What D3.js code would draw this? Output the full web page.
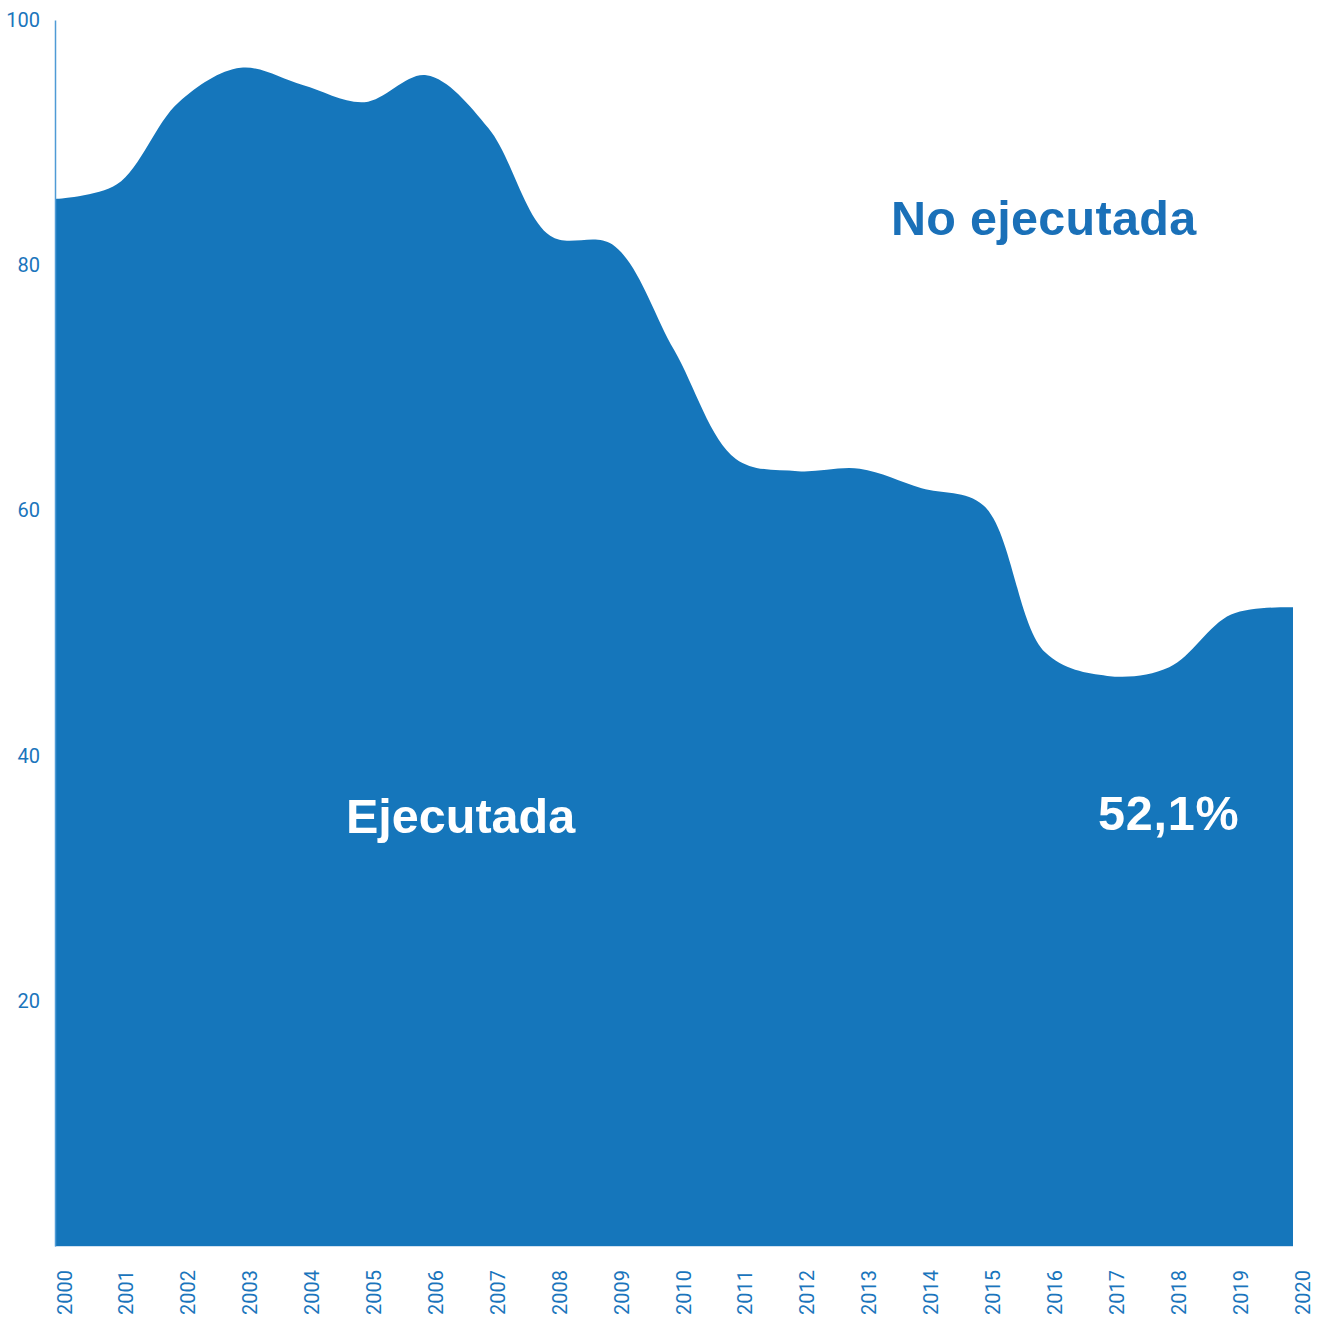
<!DOCTYPE html>
<html>
<head>
<meta charset="utf-8">
<script src="https://cdn.jsdelivr.net/npm/d3@7"></script>
<style>
  html, body { margin: 0; padding: 0; background: #ffffff; }
  svg { display: block; }
</style>
</head>
<body>
<svg id="chart" width="1323" height="1319"></svg>
<script>
const years = [2000, 2001, 2002, 2003, 2004, 2005, 2006, 2007, 2008, 2009, 2010,
               2011, 2012, 2013, 2014, 2015, 2016, 2017, 2018, 2019, 2020];
const ejecutada = [85.4, 86.6, 93.3, 96.1, 94.7, 93.3, 95.5, 91.2, 82.4, 81.7, 73.1,
                   64.2, 63.2, 63.4, 61.8, 60.4, 48.4, 46.5, 47.2, 51.5, 52.1];
const yTicks = [20, 40, 60, 80, 100];
const labelEjecutada = "Ejecutada";
const labelNoEjecutada = "No ejecutada";
const lastValueLabel = "52,1%";

const svg = d3.select("#chart");
const margin = { left: 55, top: 20 };
const innerW = 1293 - margin.left;
const innerH = 1246 - margin.top;

const x = d3.scaleLinear().domain([2000, 2020]).range([margin.left, margin.left + innerW]);
const y = d3.scaleLinear().domain([0, 100]).range([margin.top + innerH, margin.top]);

const data = years.map((yr, i) => ({ year: yr, v: ejecutada[i] }));

const area = d3.area()
  .x(d => x(d.year))
  .y0(y(0))
  .y1(d => y(d.v))
  .curve(d3.curveCatmullRom.alpha(0.5));

svg.append("path")
  .datum(data)
  .attr("d", area)
  .attr("fill", "#1576BB");

// x baseline (faint)
svg.append("line")
  .attr("x1", x(2000)).attr("x2", x(2020))
  .attr("y1", y(0) + 0.5).attr("y2", y(0) + 0.5)
  .attr("stroke", "#cfe1f1").attr("stroke-width", 1);

// y axis
const yAxis = d3.axisLeft(y).tickValues(yTicks).tickSize(0).tickPadding(15).tickFormat(d3.format("d"));
const gy = svg.append("g").attr("transform", `translate(${margin.left},0)`).call(yAxis);
gy.select(".domain").attr("stroke", "#4f9bd5").attr("stroke-width", 1.5);
gy.selectAll("text")
  .attr("fill", "#1a75bc")
  .style("font-family", "Roboto, 'Noto Sans', sans-serif")
  .style("font-size", "20px");

// x axis labels
const xAxis = d3.axisBottom(x).tickValues(years).tickSize(0).tickFormat(d3.format("d"));
const gx = svg.append("g").attr("transform", `translate(0,${y(0)})`).call(xAxis);
gx.select(".domain").remove();
gx.selectAll(".tick text")
  .attr("fill", "#1a75bc")
  .style("font-family", "Roboto, 'Noto Sans', sans-serif")
  .style("font-size", "20px")
  .attr("text-anchor", "end")
  .attr("x", 0).attr("y", 0).attr("dy", "0.35em")
  .attr("transform", "translate(9,24) rotate(-90)");

// annotations
svg.append("text")
  .attr("x", 891).attr("y", 235)
  .attr("fill", "#1a70b8")
  .style("font-family", "'Liberation Sans', Arial, sans-serif")
  .style("font-weight", "bold")
  .style("font-size", "48.5px")
  .style("letter-spacing", "0.3px")
  .text(labelNoEjecutada);

svg.append("text")
  .attr("x", 346).attr("y", 833)
  .attr("fill", "#ffffff")
  .style("font-family", "'Liberation Sans', Arial, sans-serif")
  .style("font-weight", "bold")
  .style("font-size", "48.5px")
  .text(labelEjecutada);

svg.append("text")
  .attr("x", 1098).attr("y", 830)
  .attr("fill", "#ffffff")
  .style("font-family", "'Liberation Sans', Arial, sans-serif")
  .style("font-weight", "bold")
  .style("font-size", "48.5px")
  .style("letter-spacing", "0.8px")
  .text(lastValueLabel);
</script>
</body>
</html>
